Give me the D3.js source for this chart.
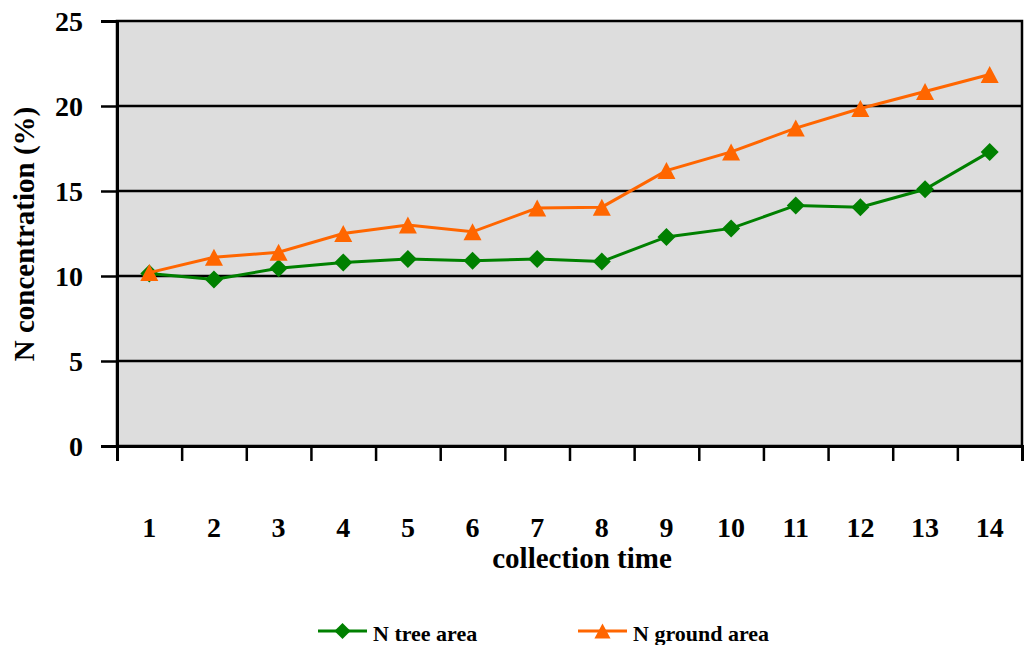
<!DOCTYPE html>
<html lang="en">
  <head>
    <meta charset="UTF-8" />
    <title>N concentration</title>
    <script src="https://cdn.jsdelivr.net/npm/d3@7"></script>
    <style>
      body {
        margin: 0;
        background: #fff;
      }
      text {
        font-family: "Liberation Serif", "Times New Roman", serif;
        font-weight: bold;
      }
    </style>
  </head>
  <body>
    <div class="chart"></div>

    <script>
      // data
      const times = ["1", "2", "3", "4", "5", "6", "7", "8", "9", "10", "11", "12", "13", "14"];
      const treeArea = [10.15, 9.8, 10.45, 10.8, 11.0, 10.9, 11.0, 10.85, 12.3, 12.8, 14.15, 14.05, 15.1, 17.3];
      const groundArea = [10.2, 11.1, 11.4, 12.5, 13.0, 12.6, 14.0, 14.05, 16.2, 17.3, 18.7, 19.85, 20.85, 21.85];
      const yTicks = [0, 5, 10, 15, 20, 25];

      const width = 1024;
      const height = 645;
      const plot = { left: 117, right: 1022, top: 21, bottom: 446 };

      const svg = d3
        .select(".chart")
        .append("svg")
        .attr("width", width)
        .attr("height", height)
        .attr("viewBox", [0, 0, width, height]);

      const x = d3.scaleBand().domain(times).range([plot.left, plot.right]).padding(0);
      const xEdge = d3.scaleLinear().domain([0, times.length]).range([plot.left, plot.right]);
      const y = d3.scaleLinear().domain([0, 25]).range([plot.bottom, plot.top]);

      // plot area
      svg
        .append("rect")
        .attr("x", plot.left)
        .attr("y", plot.top)
        .attr("width", plot.right - plot.left)
        .attr("height", plot.bottom - plot.top)
        .attr("fill", "#dddddd")
        .attr("stroke", "#000")
        .attr("stroke-width", 2.5);

      // y axis with gridlines
      const yAxis = svg
        .append("g")
        .attr("transform", `translate(${plot.left},0)`)
        .call(d3.axisLeft(y).tickValues(yTicks).tickSize(16).tickPadding(18));
      yAxis.select(".domain").attr("stroke-width", 3);
      yAxis.selectAll(".tick line").attr("stroke-width", 2.5);
      yAxis
        .selectAll(".tick text")
        .style("font-size", "28px")
        .attr("fill", "#000")
        .attr("dy", "0.34em");

      svg
        .append("g")
        .selectAll("line")
        .data(yTicks.filter((d) => d > 0 && d < 25))
        .enter()
        .append("line")
        .attr("x1", plot.left)
        .attr("x2", plot.right)
        .attr("y1", (d) => y(d))
        .attr("y2", (d) => y(d))
        .attr("stroke", "#000")
        .attr("stroke-width", 2.5);

      // x ticks at category edges
      const xTickAxis = svg
        .append("g")
        .attr("transform", `translate(0,${plot.bottom})`)
        .call(
          d3
            .axisBottom(xEdge)
            .tickValues(d3.range(0, times.length + 1))
            .tickSize(15)
            .tickFormat("")
        );
      xTickAxis.select(".domain").attr("stroke-width", 3);
      xTickAxis.selectAll(".tick line").attr("stroke-width", 2.5);

      // x labels
      const xLabels = svg
        .append("g")
        .attr("transform", `translate(0,${plot.bottom})`)
        .call(d3.axisBottom(x).tickSize(0).tickPadding(0));
      xLabels.select(".domain").remove();
      xLabels
        .selectAll(".tick text")
        .attr("dy", null)
        .attr("y", 91)
        .attr("fill", "#000")
        .style("font-size", "28px");

      // axis titles
      svg
        .append("text")
        .attr("x", 582)
        .attr("y", 568)
        .attr("text-anchor", "middle")
        .style("font-size", "29px")
        .text("collection time");

      svg
        .append("text")
        .attr("transform", "translate(34,234) rotate(-90)")
        .attr("text-anchor", "middle")
        .style("font-size", "29px")
        .text("N concentration (%)");

      // marker shapes
      const diamond = {
        draw(ctx, size) {
          const r = Math.sqrt(size) / 2;
          ctx.moveTo(0, -r);
          ctx.lineTo(r, 0);
          ctx.lineTo(0, r);
          ctx.lineTo(-r, 0);
          ctx.closePath();
        },
      };
      const triangle = {
        draw(ctx, size) {
          const r = Math.sqrt(size) / 2;
          ctx.moveTo(0, -r);
          ctx.lineTo(r * 1.06, r);
          ctx.lineTo(-r * 1.06, r);
          ctx.closePath();
        },
      };

      const series = [
        { name: "N tree area", values: treeArea, color: "#008000", shape: diamond, size: 324 },
        { name: "N ground area", values: groundArea, color: "#ff6600", shape: triangle, size: 289 },
      ];

      const cx = (i) => x(times[i]) + x.bandwidth() / 2;
      const line = d3
        .line()
        .x((d, i) => cx(i))
        .y((d) => y(d));

      series.forEach((s) => {
        const g = svg.append("g");
        g.append("path")
          .attr("d", line(s.values))
          .attr("fill", "none")
          .attr("stroke", s.color)
          .attr("stroke-width", 3);
        g.selectAll("path.marker")
          .data(s.values)
          .enter()
          .append("path")
          .attr("class", "marker")
          .attr("transform", (d, i) => `translate(${cx(i)},${y(d)})`)
          .attr("d", d3.symbol(s.shape, s.size))
          .attr("fill", s.color);
      });

      // legend
      const legendX = [318, 578];
      const legend = svg
        .append("g")
        .selectAll("g")
        .data(series)
        .enter()
        .append("g")
        .attr("transform", (d, i) => `translate(${legendX[i]},631)`);
      legend
        .append("line")
        .attr("x1", 0)
        .attr("x2", 49)
        .attr("stroke", (d) => d.color)
        .attr("stroke-width", 3);
      legend
        .append("path")
        .attr("transform", "translate(24.5,0)")
        .attr("d", (d) => d3.symbol(d.shape, d.size * 0.8)())
        .attr("fill", (d) => d.color);
      legend
        .append("text")
        .attr("x", 55)
        .attr("y", 10)
        .style("font-size", "22px")
        .text((d) => d.name);
    </script>
  </body>
</html>
